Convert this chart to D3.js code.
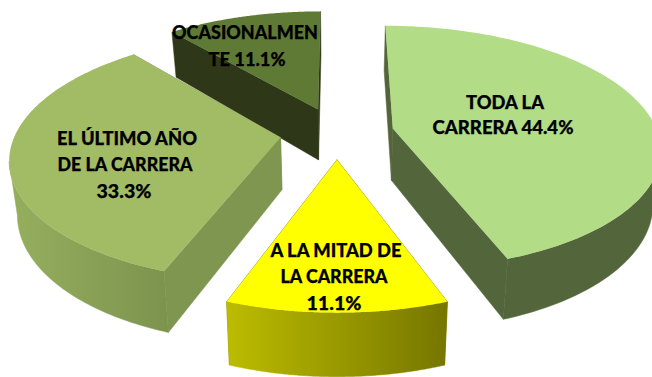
<!DOCTYPE html>
<html>
<head>
<meta charset="utf-8">
<script src="https://d3js.org/d3.v7.min.js"></script>
<style>
  html, body { margin: 0; padding: 0; background: #fff; }
  svg { display: block; }
  text { font-family: Lato, "Open Sans", sans-serif; font-weight: 900; fill: #000; stroke: #000; stroke-width: 0.25px; text-anchor: middle; }
</style>
</head>
<body>
<div id="chart"></div>
<script>
/* exploded 3D pie */

const categories = ["TODA LA CARRERA", "A LA MITAD DE LA CARRERA", "EL ÚLTIMO AÑO DE LA CARRERA", "OCASIONALMENTE"];
const values = [44.4, 11.1, 33.3, 11.1];
const labelLines = [
  ["TODA LA", "CARRERA 44.4%"],
  ["A LA MITAD DE", "LA CARRERA", "11.1%"],
  ["EL ÚLTIMO AÑO", "DE LA CARRERA", "33.3%"],
  ["OCASIONALMEN", "TE 11.1%"]
];

let width = 652,
height = 377;

// the look of each slice, same order as categories
const styles = [
  { top: "#b2dc86", wall: "#53653b", arc: ["#53653b", "#53653b"] },
  { top: "#ffff00", wall: "#7a7a00", arc: ["#bcbc00", "#767600"] },
  { top: "#a2bc66", wall: "#7e9650", arc: ["#96af5e", "#7c934e"] },
  { top: "#5f7a35", wall: "#2e3818", arc: ["#2e3818", "#2e3818"] }
];

// label centres, one list per slice, one entry per line
const labelPos = [
  [[505, 102], [503, 127]],
  [[336, 250], [334, 276], [334, 303]],
  [[127, 138], [125, 164], [124, 191]],
  [[245, 32], [247, 59]]
];
const labelWidth = [
  [78, 141],
  [131, 107, 55],
  [140, 135, 55],
  [146, 77]
];

const explode = 0.215,   // pull of each slice, in radii
  persp = 0.155,         // how fast things grow towards the viewer
  depth = 52;            // thickness of the disc

const x = d3.scaleLinear().domain([-1, 1]).range([337 - 265, 337 + 265]);
const y = d3.scaleLinear().domain([-1, 1]).range([133 - 120, 133 + 120]);

const svg = d3.select("#chart")
  .append("svg")
  .attr("width", width)
  .attr("height", height)
  .attr("viewBox", [0, 0, width, height]);

const defs = svg.append("defs");

const arcs = d3.pie().sort(null).startAngle(0).endAngle(2 * Math.PI)(values);

// angle clockwise from 12 o'clock, r in radii, low = bottom of the disc
function project(d, angle, r, low) {
  let mid = (d.startAngle + d.endAngle) / 2;
  let u = explode * Math.sin(mid) + r * Math.sin(angle);
  let v = -explode * Math.cos(mid) - r * Math.cos(angle);
  let s = 1 / (1 - persp * v);
  let sx = low ? s * 0.975 : s;
  return [x(u * sx), y(v * s) + (low ? depth * s : 0)];
}

const circle = d3.range(0, 2 * Math.PI, 0.005);

// the part of the rim that faces the viewer, between the side extremes of the disc
function frontRim(d, angles, low) {
  let right = d3.greatest(circle, a => project(d, a, 1, low)[0]);
  let left = d3.least(circle, a => project(d, a, 1, low)[0]);
  return angles.filter(a => a >= right && a <= left).map(a => project(d, a, 1, low));
}

const poly = d3.line().curve(d3.curveLinearClosed);

// back to front
const order = [3, 2, 0, 1];

order.forEach(i => {
  let d = arcs[i], st = styles[i];
  let g = svg.append("g").attr("class", "slice");

  let n = 120;
  let angles = d3.range(n + 1).map(k => d.startAngle + (d.endAngle - d.startAngle) * k / n);

  // the two cut walls
  [d.startAngle, d.endAngle].forEach(a => {
    g.append("path")
      .attr("d", poly([
        project(d, a, 0, false), project(d, a, 1, false),
        project(d, a, 1, true), project(d, a, 0, true)
      ]))
      .attr("fill", st.wall)
      .attr("stroke", st.wall)
      .attr("stroke-width", 0.5);
  });

  // outer wall
  let rim = frontRim(d, angles, false).concat(frontRim(d, angles, true).reverse());
  if (rim.length) {
    let grad = defs.append("linearGradient")
      .attr("id", "arc" + i)
      .attr("gradientUnits", "userSpaceOnUse")
      .attr("x1", d3.min(rim, p => p[0]))
      .attr("x2", d3.max(rim, p => p[0]));
    grad.append("stop").attr("offset", "0%").attr("stop-color", st.arc[0]);
    grad.append("stop").attr("offset", "100%").attr("stop-color", st.arc[1]);

    g.append("path")
      .attr("d", poly(rim))
      .attr("fill", `url(#arc${i})`)
      .attr("stroke", `url(#arc${i})`)
      .attr("stroke-width", 0.5);
  }

  // top face
  g.append("path")
    .attr("d", poly([project(d, 0, 0, false)].concat(angles.map(a => project(d, a, 1, false)))))
    .attr("fill", st.top);
});

// labels last so nothing covers them
labelLines.forEach((lines, i) => {
  lines.forEach((t, j) => {
    svg.append("text")
      .attr("x", labelPos[i][j][0])
      .attr("y", labelPos[i][j][1])
      .attr("dy", "0.36em")
      .attr("textLength", labelWidth[i][j])
      .attr("lengthAdjust", "spacingAndGlyphs")
      .style("font-size", "19px")
      .text(t);
  });
});
</script>
</body>
</html>
